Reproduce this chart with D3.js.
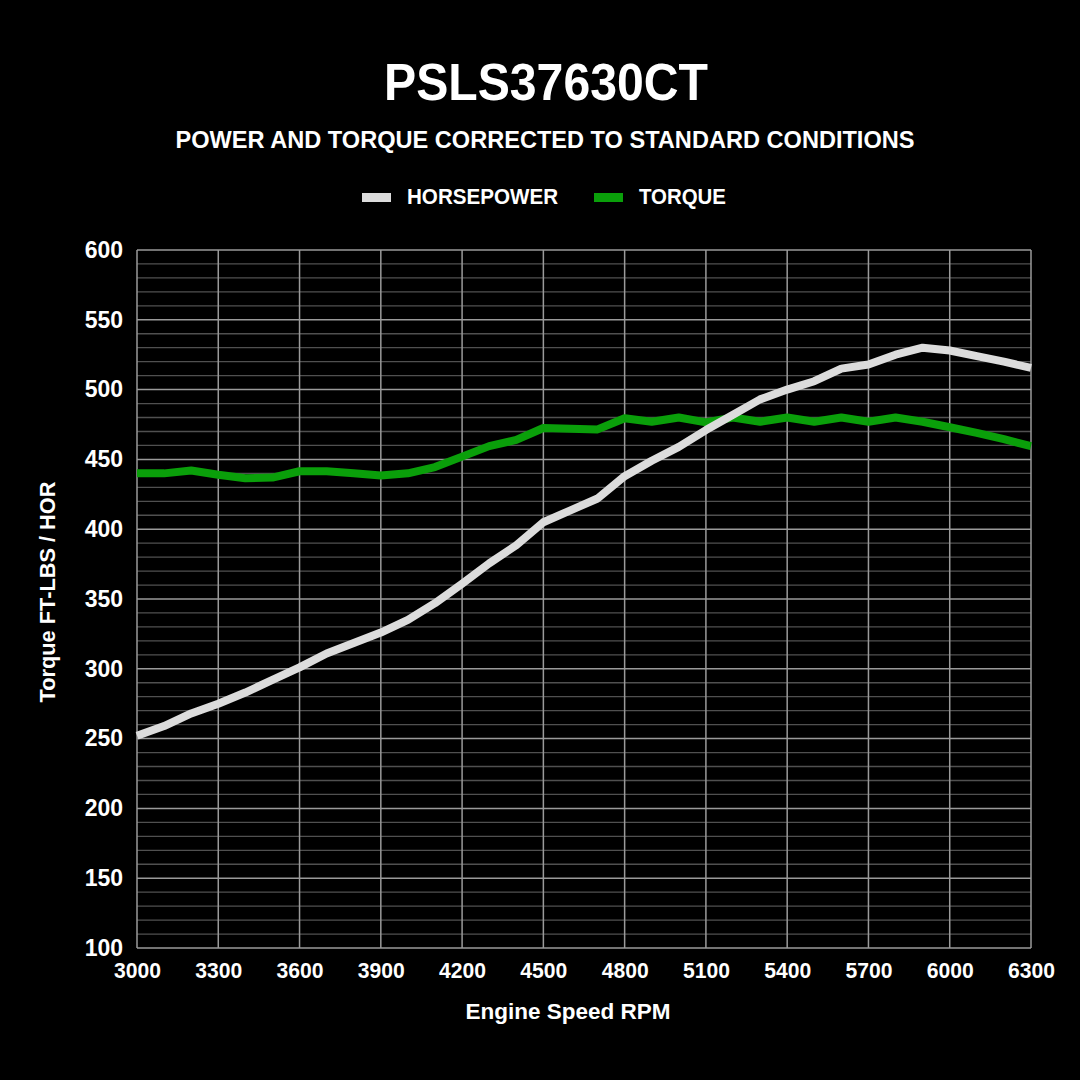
<!DOCTYPE html>
<html>
<head>
<meta charset="utf-8">
<script src="https://cdn.jsdelivr.net/npm/d3@7"></script>
<style>
  body { margin: 0; background: #000; }
  text { font-family: "Liberation Sans", Arial, sans-serif; font-weight: bold; fill: #fff; }
</style>
</head>
<body>
<div id="my_dataviz"></div>
<script>
// data, every 100 rpm
const rpm = [3000, 3100, 3200, 3300, 3400, 3500, 3600, 3700, 3800, 3900, 4000,
  4100, 4200, 4300, 4400, 4500, 4600, 4700, 4800, 4900, 5000,
  5100, 5200, 5300, 5400, 5500, 5600, 5700, 5800, 5900, 6000,
  6100, 6200, 6300];
const horsepower = [252, 259, 268, 275, 283, 292, 301, 311, 318.5, 326, 335,
  347, 361, 375.5, 388.5, 405, 413.5, 422, 438, 449, 459,
  471, 482, 493, 500, 506, 515, 518, 525, 530, 528,
  524, 520, 515.5];
const torque = [440, 440, 442, 439, 436.5, 437, 441.5, 441.5, 440, 438.5, 440,
  444.5, 452, 459.5, 464, 472.5, 472, 471.5, 479.5, 477, 480,
  476.5, 480, 477, 480, 477, 480, 477, 480, 477, 473,
  469, 464.5, 459.5];
const xTicks = [3000, 3300, 3600, 3900, 4200, 4500, 4800, 5100, 5400, 5700, 6000, 6300];
const yTicks = [100, 150, 200, 250, 300, 350, 400, 450, 500, 550, 600];

const W = 1080, H = 1080;
const margin = { top: 250, right: 49, bottom: 132, left: 137 },
  width = W - margin.left - margin.right,
  height = H - margin.top - margin.bottom;

const root = d3.select("#my_dataviz")
  .append("svg")
  .attr("width", W)
  .attr("height", H);

root.append("rect").attr("width", W).attr("height", H).attr("fill", "#000");

// titles
root.append("text")
  .attr("x", 546).attr("y", 100)
  .attr("text-anchor", "middle")
  .attr("textLength", 324).attr("lengthAdjust", "spacingAndGlyphs")
  .style("font-size", "51px")
  .text("PSLS37630CT");
root.append("text")
  .attr("x", 545).attr("y", 148)
  .attr("text-anchor", "middle")
  .attr("textLength", 739).attr("lengthAdjust", "spacingAndGlyphs")
  .style("font-size", "24.5px")
  .text("POWER AND TORQUE CORRECTED TO STANDARD CONDITIONS");

// legend
const legend = [
  { name: "HORSEPOWER", color: "#dcdcdc", x: 362, w: 151 },
  { name: "TORQUE", color: "#0a9f0a", x: 594, w: 87 }
];
legend.forEach(l => {
  root.append("rect").attr("x", l.x).attr("y", 193).attr("width", 29).attr("height", 9).attr("fill", l.color);
  root.append("text").attr("x", l.x + 45).attr("y", 204)
    .attr("textLength", l.w).attr("lengthAdjust", "spacingAndGlyphs")
    .style("font-size", "21.5px").text(l.name);
});

const svg = root.append("g")
  .attr("transform", `translate(${margin.left},${margin.top})`);

const x = d3.scaleLinear().domain([3000, 6300]).range([0, width]);
const y = d3.scaleLinear().domain([100, 600]).range([height, 0]);

// minor horizontal grid every 10
svg.append("g")
  .selectAll("line")
  .data(d3.range(110, 600, 10).filter(v => v % 50 !== 0))
  .join("line")
  .attr("x1", 0).attr("x2", width)
  .attr("y1", d => y(d)).attr("y2", d => y(d))
  .attr("stroke", "#505050").attr("stroke-width", 1.3);

// major horizontal grid
svg.append("g")
  .selectAll("line")
  .data(yTicks)
  .join("line")
  .attr("x1", 0).attr("x2", width)
  .attr("y1", d => y(d)).attr("y2", d => y(d))
  .attr("stroke", "#9a9a9a").attr("stroke-width", 1.5);

// vertical grid
svg.append("g")
  .selectAll("line")
  .data(xTicks)
  .join("line")
  .attr("x1", d => x(d)).attr("x2", d => x(d))
  .attr("y1", 0).attr("y2", height)
  .attr("stroke", "#9a9a9a").attr("stroke-width", 1.5);

// axes labels
const xAxis = svg.append("g")
  .attr("transform", `translate(0,${height})`)
  .call(d3.axisBottom(x).tickValues(xTicks).tickFormat(d3.format("d")).tickSize(0).tickPadding(14));
xAxis.select(".domain").remove();
xAxis.selectAll("text").style("font-size", "22.5px").attr("fill", "#fff")
  .attr("textLength", 47).attr("lengthAdjust", "spacingAndGlyphs");

const yAxis = svg.append("g")
  .call(d3.axisLeft(y).tickValues(yTicks).tickSize(0).tickPadding(14));
yAxis.select(".domain").remove();
yAxis.selectAll("text").style("font-size", "23px").attr("fill", "#fff");

root.append("text")
  .attr("x", 568).attr("y", 1019)
  .attr("text-anchor", "middle")
  .attr("textLength", 205).attr("lengthAdjust", "spacingAndGlyphs")
  .style("font-size", "22px")
  .text("Engine Speed RPM");
root.append("text")
  .attr("transform", `translate(55,592) rotate(-90)`)
  .attr("text-anchor", "middle")
  .attr("textLength", 221).attr("lengthAdjust", "spacingAndGlyphs")
  .style("font-size", "21.5px")
  .text("Torque FT-LBS / HOR");

// lines
const line = vals => d3.line()
  .x((d, i) => x(rpm[i]))
  .y(d => y(d))(vals);

svg.append("path")
  .attr("d", line(torque))
  .attr("fill", "none")
  .attr("stroke", "#0a9f0a")
  .attr("stroke-width", 8)
  .attr("stroke-linejoin", "round");

svg.append("path")
  .attr("d", line(horsepower))
  .attr("fill", "none")
  .attr("stroke", "#dcdcdc")
  .attr("stroke-width", 8)
  .attr("stroke-linejoin", "round");
</script>
</body>
</html>
